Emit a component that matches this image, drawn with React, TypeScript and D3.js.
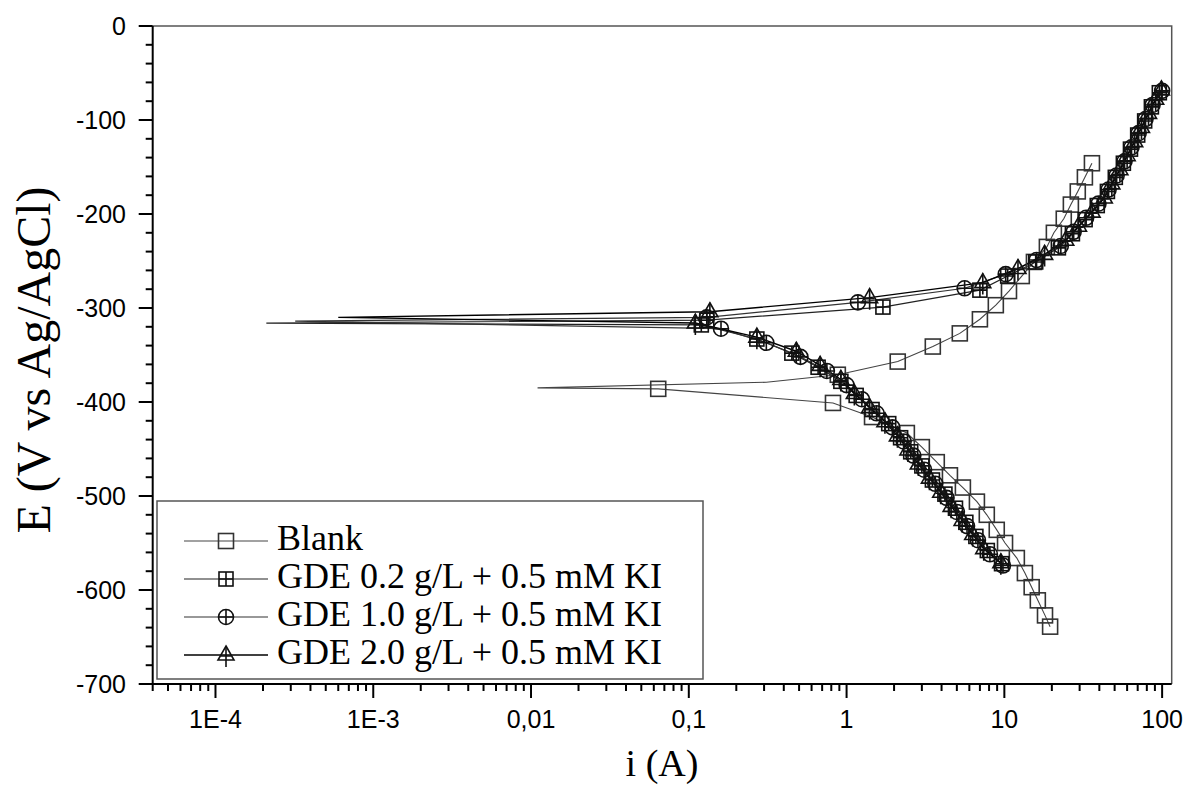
import React from 'react';
import * as d3 from 'd3';

const W = 1189;
const H = 787;
const plot = { left: 152.7, right: 1171.7, top: 26, bottom: 684 };

// points are [i (A), E (mV vs Ag/AgCl)]
// Blank
const blankCath = [[19.5, -639], [18.1, -627], [16.3, -611], [14.9, -597], [13.5, -582], [12.0, -566], [10.1, -550], [8.95, -536], [7.74, -520], [6.7, -506], [5.46, -491], [4.52, -478], [3.73, -464], [3.0, -448], [2.41, -433], [1.45, -416], [0.82, -401], [0.064, -386]];
const blankTip = [[0.011, -385], [0.31, -379]];
const blankAnod = [[0.88, -371], [2.11, -357], [3.52, -341], [5.22, -327], [7.0, -312], [8.83, -297], [10.7, -282], [12.9, -266], [15.4, -251], [18.6, -235], [20.6, -220], [23.8, -205], [26.4, -190], [29.2, -176], [32.4, -161], [35.9, -146]];

// GDE 0.2 g/L + 0.5 mM KI
const gde02Cath = [[9.6, -572], [7.8, -558], [6.6, -543], [5.7, -528], [4.9, -513], [4.2, -498], [3.5, -483], [3.0, -468], [2.55, -453], [2.2, -438], [1.85, -423], [1.45, -408], [1.15, -393], [0.92, -378], [0.66, -363], [0.45, -348], [0.27, -333], [0.12, -318]];
const gde02Tip = [[2.1e-4, -316]];
const gde02Anod = [[0.13, -313], [1.7, -299], [7.0, -281], [10.5, -266], [15.8, -251], [22, -236], [27, -221], [32.5, -206], [38.8, -191], [45, -176], [50.5, -161], [56.8, -146], [63, -131], [70, -116], [77.5, -101], [85.5, -86], [96, -71]];

// GDE 1.0 g/L + 0.5 mM KI
const gde10Cath = [[9.8, -574], [8.1, -562], [6.8, -547], [5.8, -532], [5.0, -517], [4.3, -502], [3.65, -487], [3.1, -472], [2.65, -457], [2.3, -442], [1.95, -427], [1.55, -412], [1.25, -397], [1.0, -382], [0.75, -367], [0.51, -352], [0.31, -337], [0.16, -322]];
const gde10Tip = [[3.2e-4, -314]];
const gde10Anod = [[0.13, -310], [1.18, -294], [5.6, -279], [10.2, -264], [16, -249], [22.8, -234], [27.5, -219], [33, -204], [39.5, -189], [45.8, -174], [51.5, -159], [57.8, -144], [64, -129], [71, -114], [78.5, -99], [87, -84], [100, -69]];

// GDE 2.0 g/L + 0.5 mM KI
const gde20Cath = [[9.5, -571], [7.4, -556], [6.3, -541], [5.4, -526], [4.6, -511], [3.95, -496], [3.35, -481], [2.85, -466], [2.45, -451], [2.1, -436], [1.75, -421], [1.4, -406], [1.12, -391], [0.92, -376], [0.68, -361], [0.48, -346], [0.27, -331], [0.11, -316]];
const gde20Tip = [[6e-4, -310]];
const gde20Anod = [[0.136, -304], [1.4, -289], [7.3, -273], [12.2, -258], [18, -243], [24.5, -228], [29.5, -213], [36, -198], [43, -183], [48, -168], [54, -153], [60, -138], [67, -123], [74, -108], [82, -93], [91, -78], [99, -68]];

const seriesNames = ['Blank', 'GDE 0.2 g/L + 0.5 mM KI', 'GDE 1.0 g/L + 0.5 mM KI', 'GDE 2.0 g/L + 0.5 mM KI'];

const xTickValues = [1e-4, 1e-3, 0.01, 0.1, 1, 10, 100];
const xTickLabels = ['1E-4', '1E-3', '0,01', '0,1', '1', '10', '100'];
const yTickValues = [0, -100, -200, -300, -400, -500, -600, -700];

const x = d3.scaleLog().domain([4e-5, 115]).range([plot.left, plot.right]);
const y = d3.scaleLinear().domain([0, -700]).range([plot.top, plot.bottom]);

const line = d3.line<number[]>()
  .x(d => x(d[0]))
  .y(d => y(d[1]));

// Origin style symbols: open square, square+plus, circle+plus, triangle+plus
function Marker({ kind, cx, cy }: { kind: number; cx: number; cy: number }) {
  const common = { fill: 'none', stroke: '#111', strokeWidth: 1.6 };
  if (kind === 0) {
    return <rect x={cx - 7.5} y={cy - 7.5} width={15} height={15} {...common} stroke="#333" />;
  }
  if (kind === 1) {
    return (
      <g {...common}>
        <rect x={cx - 7} y={cy - 7} width={14} height={14} />
        <path d={`M${cx - 7},${cy}H${cx + 7}M${cx},${cy - 7}V${cy + 7}`} />
      </g>
    );
  }
  if (kind === 2) {
    return (
      <g {...common}>
        <circle cx={cx} cy={cy} r={7.5} />
        <path d={`M${cx - 7.5},${cy}H${cx + 7.5}M${cx},${cy - 7.5}V${cy + 7.5}`} />
      </g>
    );
  }
  return (
    <g {...common}>
      <path d={`M${cx},${cy - 9}L${cx + 8},${cy + 5}L${cx - 8},${cy + 5}Z`} />
      <path d={`M${cx - 5},${cy + 1}H${cx + 5}M${cx},${cy - 9}V${cy + 12}`} />
    </g>
  );
}

const series = [
  { cath: blankCath, tip: blankTip, anod: blankAnod, stroke: '#444', width: 1.1 },
  { cath: gde02Cath, tip: gde02Tip, anod: gde02Anod, stroke: '#222', width: 1.2 },
  { cath: gde10Cath, tip: gde10Tip, anod: gde10Anod, stroke: '#333', width: 1.2 },
  { cath: gde20Cath, tip: gde20Tip, anod: gde20Anod, stroke: '#000', width: 1.4 },
];

export default function App() {
  const xMinor: number[] = [];
  for (let e = -5; e <= 2; e += 1) {
    for (let k = 2; k <= 9; k += 1) {
      const v = k * Math.pow(10, e);
      if (v >= 4e-5 && v <= 115) xMinor.push(v);
    }
  }
  const yMinor = d3.range(0, -701, -20).filter(v => v % 100 !== 0);

  return (
    <svg width={W} height={H} style={{ position: 'absolute', left: 0, top: 0, background: '#fff' }}>
      <rect width={W} height={H} fill="#fff" />

      {/* frame */}
      <path d={`M${plot.left},${plot.top}H${plot.right}V${plot.bottom}`} fill="none" stroke="#555" strokeWidth={1.5} />

      {/* data lines */}
      {series.map((s, idx) => (
        <path key={`l${idx}`} d={line([...s.cath, ...s.tip, ...s.anod]) || ''} fill="none" stroke={s.stroke} strokeWidth={s.width} />
      ))}
      {/* markers */}
      {series.map((s, idx) => (
        <g key={`m${idx}`}>
          {[...s.cath, ...s.anod].map((d, j) => (
            <Marker key={j} kind={idx} cx={x(d[0])} cy={y(d[1])} />
          ))}
        </g>
      ))}

      {/* axes */}
      <g stroke="#000" strokeWidth={2}>
        <line x1={plot.left} x2={plot.left} y1={plot.top} y2={plot.bottom + 1} />
        <line x1={plot.left - 1} x2={plot.right} y1={plot.bottom} y2={plot.bottom} />
        {xTickValues.map(v => (
          <line key={`xt${v}`} x1={x(v)} x2={x(v)} y1={plot.bottom} y2={plot.bottom + 14} />
        ))}
        {xMinor.map(v => (
          <line key={`xm${v}`} x1={x(v)} x2={x(v)} y1={plot.bottom} y2={plot.bottom + 7} />
        ))}
        {yTickValues.map(v => (
          <line key={`yt${v}`} x1={plot.left - 14} x2={plot.left} y1={y(v)} y2={y(v)} />
        ))}
        {yMinor.map(v => (
          <line key={`ym${v}`} x1={plot.left - 7} x2={plot.left} y1={y(v)} y2={y(v)} />
        ))}
      </g>

      <g fontFamily="'Liberation Sans', Arial, sans-serif" fontSize={25} fill="#000">
        {xTickValues.map((v, k) => (
          <text key={`xl${v}`} x={x(v)} y={728} textAnchor="middle">{xTickLabels[k]}</text>
        ))}
        {yTickValues.map(v => (
          <text key={`yl${v}`} x={126} y={y(v)} textAnchor="end" dominantBaseline="central">{v}</text>
        ))}
      </g>

      <g fontFamily="'Liberation Serif', 'Times New Roman', serif" fill="#000">
        <text x={662} y={776} textAnchor="middle" fontSize={38}>i (A)</text>
        <text transform={`translate(50,360) rotate(-90)`} textAnchor="middle" fontSize={48}>E (V vs Ag/AgCl)</text>
      </g>

      {/* legend */}
      <g>
        <rect x={157} y={501} width={546} height={178} fill="#fff" stroke="#555" strokeWidth={1.5} />
        {seriesNames.map((name, k) => {
          const by = 550 + k * 38;
          return (
            <g key={name}>
              <line x1={184} x2={268} y1={by - 9} y2={by - 9} stroke={series[k].stroke} strokeWidth={series[k].width} />
              <Marker kind={k} cx={226} cy={by - 9} />
              <text x={277} y={by} fontFamily="'Liberation Serif', 'Times New Roman', serif" fontSize={36}>{name}</text>
            </g>
          );
        })}
      </g>
    </svg>
  );
}
